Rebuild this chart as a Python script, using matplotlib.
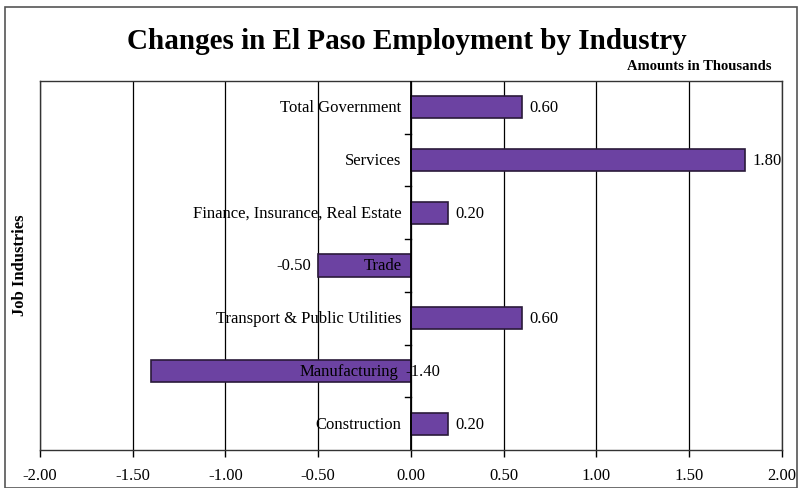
import matplotlib.pyplot as plt
import numpy as np
from matplotlib.patches import Rectangle

industries = ["Total Government", "Services", "Finance, Insurance, Real Estate", "Trade",
              "Transport & Public Utilities", "Manufacturing", "Construction"]
changes = [0.60, 1.80, 0.20, -0.50, 0.60, -1.40, 0.20]
xticks = [-2.0, -1.5, -1.0, -0.5, 0.0, 0.5, 1.0, 1.5, 2.0]

plt.rcParams['font.family'] = ['Liberation Serif', 'DejaVu Serif']

fig = plt.figure(figsize=(8.03, 4.89), dpi=100)
ax = fig.add_axes([40 / 803, 1 - 451 / 489, 742 / 803, 369 / 489])

# outer frame round the whole chart
fig.patches.append(Rectangle((5 / 803, 0.0), 792 / 803, 1 - 8 / 489, transform=fig.transFigure,
                             fill=False, edgecolor='#555555', linewidth=1.2))

y = np.arange(len(industries))[::-1]
ax.barh(y, changes, height=0.42, color='#6c42a2', edgecolor='#2a1a3a', linewidth=1.2, zorder=3)

for yi, name, v in zip(y, industries, changes):
    if v > 0:
        ax.text(-0.05, yi, name, ha='right', va='center', fontsize=12, zorder=4)
        ax.text(v + 0.04, yi, f"{v:.2f}", ha='left', va='center', fontsize=12, zorder=4)
    elif v > -1:
        ax.text(-0.05, yi, name, ha='right', va='center', fontsize=12, zorder=4)
        ax.text(v - 0.04, yi, f"{v:.2f}", ha='right', va='center', fontsize=12, zorder=4)
    else:
        # label of the long negative bar sits across the zero line, as in the original
        ax.text(-0.07, yi, name, ha='right', va='center', fontsize=12, zorder=4)
        ax.text(-0.03, yi, f"{v:.2f}", ha='left', va='center', fontsize=12, zorder=4)

ax.set_xlim(-2, 2)
ax.set_ylim(-0.5, len(industries) - 0.5)
ax.set_xticks(xticks)
ax.set_xticklabels([f"{t:.2f}" for t in xticks], fontsize=12)
ax.tick_params(axis='x', length=5, width=1, direction='out', pad=7)
ax.set_yticks([])
ax.grid(axis='x', color='black', linewidth=0.9, zorder=0)
ax.axvline(0, color='black', linewidth=1.3, zorder=5)
for b in np.arange(0.5, len(industries) - 1, 1.0):
    ax.plot([-0.03, 0], [b, b], color='black', linewidth=1, zorder=5)
for s in ax.spines.values():
    s.set_color('#333333')
    s.set_linewidth(1.0)

fig.text(407 / 803, 1 - 42 / 489, "Changes in El Paso Employment by Industry", ha='center', va='center',
         fontsize=21, fontweight='bold')
fig.text(772 / 803, 1 - 67 / 489, "Amounts in Thousands", ha='right', va='center',
         fontsize=10.5, fontweight='bold')
fig.text(20 / 803, 1 - 265 / 489, "Job Industries", ha='center', va='center', rotation=90,
         fontsize=12, fontweight='bold')

fig.savefig("out.png", dpi=100)
